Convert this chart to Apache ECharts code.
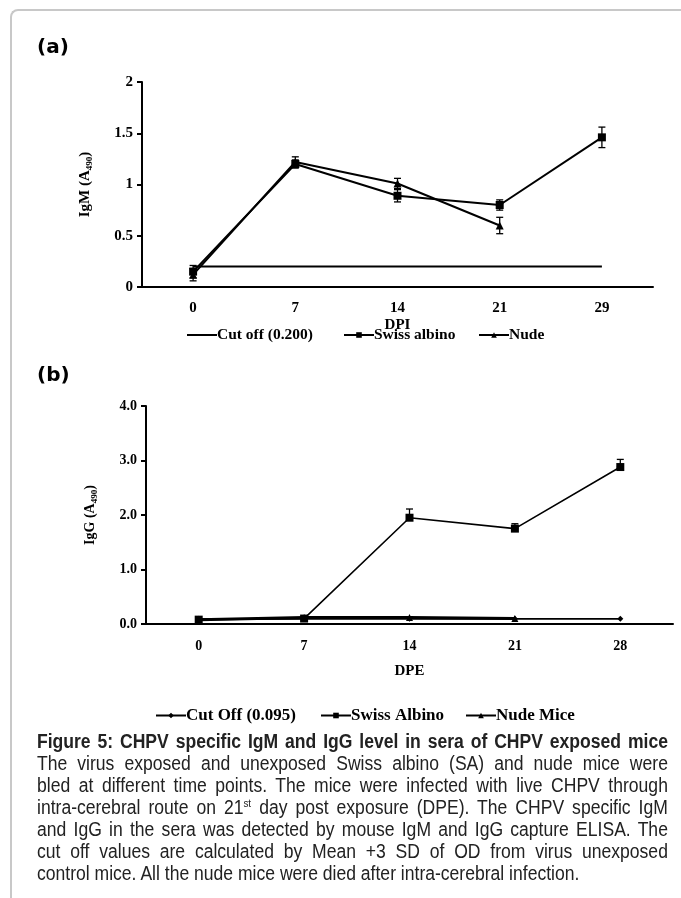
<!DOCTYPE html>
<html>
<head>
<meta charset="utf-8">
<script src="https://cdn.jsdelivr.net/npm/echarts@6/dist/echarts.min.js"></script>
<style>
  html, body { margin: 0; padding: 0; background: #fff; }
  #wrap { position: relative; width: 681px; height: 898px; overflow: hidden; }
  #frame { position: absolute; left: 10px; top: 9px; width: 720px; height: 940px;
    border-top: 2px solid #c8c8c8; border-left: 2px solid #c8c8c8; border-top-left-radius: 8px; }
  #chart { position: absolute; left: 0; top: 0; width: 681px; height: 898px; }
  /* 说明文字：无窄体字库，用横向压缩模拟 Arial Narrow */
  #caption { position: absolute; left: 37px; top: 730px; width: 701px;
    transform: scaleX(0.9); transform-origin: 0 0;
    font-family: "Liberation Sans", sans-serif; font-size: 19.5px; line-height: 22px; color: #222; }
  #caption div { text-align: justify; text-align-last: justify; white-space: nowrap; }
  #caption div.last { text-align-last: left; }
  sup { font-size: 11px; line-height: 0; }
</style>
</head>
<body>
<div id="wrap">
  <div id="frame"></div>
  <div id="chart"></div>
  <div id="caption">
    <div><b>Figure 5: CHPV specific IgM and IgG level in sera of CHPV exposed mice</b></div>
    <div>The virus exposed and unexposed Swiss albino (SA) and nude mice were</div>
    <div>bled at different time points. The mice were infected with live CHPV through</div>
    <div>intra-cerebral route on 21<sup>st</sup> day post exposure (DPE). The CHPV specific IgM</div>
    <div>and IgG in the sera was detected by mouse IgM and IgG capture ELISA. The</div>
    <div>cut off values are calculated by Mean +3 SD of OD from virus unexposed</div>
    <div class="last">control mice. All the nude mice were died after intra-cerebral infection.</div>
  </div>
</div>
<script>
// panel (a) IgM
var dpi = ['0', '7', '14', '21', '29'];
var igmCutoff = [0.2, 0.2, 0.2, 0.2, 0.2];
var igmSwiss = [0.15, 1.2, 0.89, 0.8, 1.46];
var igmSwissErr = [0.06, 0.04, 0.06, 0.05, 0.1];
var igmNude = [0.12, 1.22, 1.01, 0.6];
var igmNudeErr = [0.06, 0.05, 0.05, 0.08];

// panel (b) IgG
var dpe = ['0', '7', '14', '21', '28'];
var iggCutoff = [0.095, 0.095, 0.095, 0.095, 0.095];
var iggSwiss = [0.08, 0.1, 1.95, 1.75, 2.88];
var iggSwissErr = [0.02, 0.02, 0.16, 0.09, 0.14];
var iggNude = [0.08, 0.12, 0.12, 0.1];

var serif = 'Liberation Serif';
var tickFont = { fontFamily: serif, fontWeight: 'bold', fontSize: 15, color: '#000' };

// 误差线数据 [index, low, high]
function errData(vals, errs, upperOnly) {
  return vals.map(function (v, i) {
    return [i, upperOnly ? v : v - errs[i], v + errs[i]];
  });
}

function errSeries(xi, data) {
  return {
    type: 'custom', xAxisIndex: xi, yAxisIndex: xi, z: 5, silent: true,
    renderItem: function (params, api) {
      var lo = api.coord([api.value(0), api.value(1)]);
      var hi = api.coord([api.value(0), api.value(2)]);
      var w = 3.5;
      var st = { stroke: '#000', lineWidth: 1.3 };
      return { type: 'group', children: [
        { type: 'line', shape: { x1: hi[0], y1: lo[1], x2: hi[0], y2: hi[1] }, style: st },
        { type: 'line', shape: { x1: hi[0] - w, y1: hi[1], x2: hi[0] + w, y2: hi[1] }, style: st },
        { type: 'line', shape: { x1: lo[0] - w, y1: lo[1], x2: lo[0] + w, y2: lo[1] }, style: st }
      ]};
    },
    encode: { x: 0, y: [1, 2] },
    data: data
  };
}

function legendItem(name, left, top, size, noSymbol) {
  var lg = {
    data: [name], left: left, top: top, itemWidth: 30, itemHeight: 7, padding: 0,
    itemGap: 0, selectedMode: false,
    lineStyle: { width: 2 },
    textStyle: { fontFamily: serif, fontWeight: 'bold', fontSize: size, color: '#000', padding: [0, 0, 0, -5] }
  };
  if (noSymbol) lg.itemStyle = { opacity: 0 };
  return lg;
}

var chart = echarts.init(document.getElementById('chart'));
chart.setOption({
  animation: false,
  graphic: [
    { type: 'text', left: 37, top: 38, style: { text: '(a)', font: 'bold 20px "DejaVu Sans"', fill: '#000' } },
    { type: 'text', left: 37, top: 366, style: { text: '(b)', font: 'bold 20px "DejaVu Sans"', fill: '#000' } }
  ],
  grid: [
    { left: 142, width: 511, top: 82, height: 205 },
    { left: 146, width: 527, top: 406, height: 218 }
  ],
  legend: [
    legendItem('Cut off (0.200)', 186, 327, 15.5, true),
    legendItem('Swiss albino', 343, 327, 15.5),
    legendItem('Nude', 478, 327, 15.5),
    legendItem('Cut Off (0.095)', 155, 707, 17),
    legendItem('Swiss Albino', 320, 707, 17),
    legendItem('Nude Mice', 465, 707, 17)
  ],
  xAxis: [
    { type: 'category', gridIndex: 0, data: dpi, boundaryGap: true,
      name: 'DPI', nameLocation: 'middle', nameGap: 31,
      nameTextStyle: { fontFamily: serif, fontWeight: 'bold', fontSize: 15, color: '#000' },
      axisLine: { lineStyle: { color: '#000', width: 2 } },
      axisTick: { length: 4, lineStyle: { color: '#000', width: 2 } },
      axisLabel: Object.assign({ margin: 14 }, tickFont) },
    { type: 'category', gridIndex: 1, data: dpe, boundaryGap: true,
      name: 'DPE', nameLocation: 'middle', nameGap: 40,
      nameTextStyle: { fontFamily: serif, fontWeight: 'bold', fontSize: 15, color: '#000' },
      axisLine: { lineStyle: { color: '#000', width: 2 } },
      axisTick: { length: 4, lineStyle: { color: '#000', width: 2 } },
      axisLabel: Object.assign({ margin: 15 }, tickFont, { fontSize: 14 }) }
  ],
  yAxis: [
    { type: 'value', gridIndex: 0, min: 0, max: 2, interval: 0.5,
      name: '{t|IgM (A}{s|490}{t|)}', nameLocation: 'middle', nameGap: 48, nameRotate: 90,
      nameTextStyle: { rich: {
        t: { fontFamily: serif, fontWeight: 'bold', fontSize: 15, color: '#000' },
        s: { fontFamily: serif, fontWeight: 'bold', fontSize: 9, color: '#000', padding: [8, 0, 0, 0] } } },
      splitLine: { show: false },
      axisLine: { show: true, lineStyle: { color: '#000', width: 2 } },
      axisTick: { show: true, length: 5, lineStyle: { color: '#000', width: 2 } },
      axisLabel: Object.assign({ margin: 9 }, tickFont) },
    { type: 'value', gridIndex: 1, min: 0, max: 4, interval: 1,
      name: '{t|IgG (A}{s|490}{t|)}', nameLocation: 'middle', nameGap: 47, nameRotate: 90,
      nameTextStyle: { rich: {
        t: { fontFamily: serif, fontWeight: 'bold', fontSize: 14, color: '#000' },
        s: { fontFamily: serif, fontWeight: 'bold', fontSize: 9, color: '#000', padding: [8, 0, 0, 0] } } },
      splitLine: { show: false },
      axisLine: { show: true, lineStyle: { color: '#000', width: 2 } },
      axisTick: { show: true, length: 5, lineStyle: { color: '#000', width: 2 } },
      axisLabel: Object.assign({ margin: 9, formatter: function (v) { return v.toFixed(1); } }, tickFont, { fontSize: 14 }) }
  ],
  series: [
    { name: 'Cut off (0.200)', type: 'line', xAxisIndex: 0, yAxisIndex: 0, data: igmCutoff,
      symbol: 'none', lineStyle: { color: '#000', width: 2 }, itemStyle: { color: '#000' } },
    { name: 'Swiss albino', type: 'line', xAxisIndex: 0, yAxisIndex: 0, data: igmSwiss,
      symbol: 'rect', symbolSize: 8, lineStyle: { color: '#000', width: 2 }, itemStyle: { color: '#000' }, z: 4 },
    { name: 'Nude', type: 'line', xAxisIndex: 0, yAxisIndex: 0, data: igmNude,
      symbol: 'triangle', symbolSize: 8, lineStyle: { color: '#000', width: 2 }, itemStyle: { color: '#000' }, z: 4 },
    errSeries(0, errData(igmSwiss, igmSwissErr, false)),
    errSeries(0, errData(igmNude, igmNudeErr, false)),

    { name: 'Cut Off (0.095)', type: 'line', xAxisIndex: 1, yAxisIndex: 1, data: iggCutoff,
      symbol: 'diamond', symbolSize: 6, lineStyle: { color: '#000', width: 1.8 }, itemStyle: { color: '#000' } },
    { name: 'Swiss Albino', type: 'line', xAxisIndex: 1, yAxisIndex: 1, data: iggSwiss,
      symbol: 'rect', symbolSize: 8, lineStyle: { color: '#000', width: 1.6 }, itemStyle: { color: '#000' }, z: 4 },
    { name: 'Nude Mice', type: 'line', xAxisIndex: 1, yAxisIndex: 1, data: iggNude,
      symbol: 'triangle', symbolSize: 7, lineStyle: { color: '#000', width: 3 }, itemStyle: { color: '#000' }, z: 3 },
    errSeries(1, errData(iggSwiss, iggSwissErr, true))
  ]
});
</script>
</body>
</html>
